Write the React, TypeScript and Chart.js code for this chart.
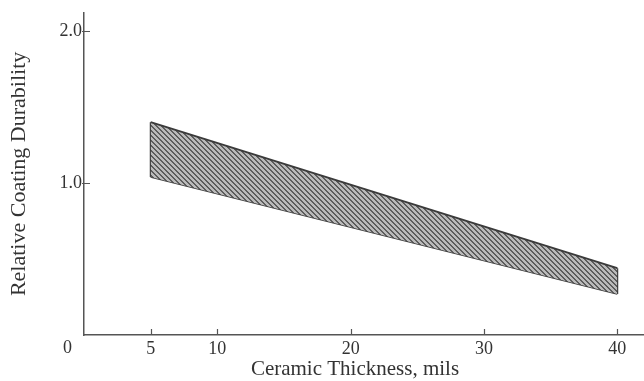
import React, { useEffect, useRef } from "react";
import { Chart, registerables } from "chart.js";

Chart.register(...registerables);

const bandX = [5, 40];
const upperValues = [1.4, 0.44];
const lowerValues = [1.04, 0.27];
const xTickValues = [5, 10, 20, 30, 40];
const yTickValues = [1.0, 2.0];
const xTitle = "Ceramic Thickness, mils";
const yTitle = "Relative Coating Durability";
const originLabel = "0";

const FONT = "'Liberation Serif', 'DejaVu Serif', serif";
const TEXT = "#333";
const AXIS = "#555";
const LINE = "#3a3a3a";

function makeHatch(): CanvasPattern | string {
  const c = document.createElement("canvas");
  const n = 5;
  c.width = n;
  c.height = n;
  const g = c.getContext("2d");
  if (!g) return "#888";
  for (let yy = 0; yy < n; yy++) {
    for (let xx = 0; xx < n; xx++) {
      g.fillStyle = (xx - yy + n * 2) % n < 2 ? "#5c5c5c" : "#bababa";
      g.fillRect(xx, yy, 1, 1);
    }
  }
  const p = g.createPattern(c, "repeat");
  return p || "#888";
}

const decor = {
  id: "decor",
  afterDraw(chart: any) {
    const { ctx, chartArea, scales } = chart;
    const x = scales.x;
    const y = scales.y;
    const y0 = y.getPixelForValue(0);
    const x0 = x.getPixelForValue(0);
    ctx.save();
    ctx.strokeStyle = AXIS;
    ctx.lineWidth = 1.2;
    ctx.beginPath();
    for (const v of xTickValues) {
      const px = Math.round(x.getPixelForValue(v)) + 0.5;
      ctx.moveTo(px, y0);
      ctx.lineTo(px, y0 - 6);
    }
    for (const v of yTickValues) {
      const py = Math.round(y.getPixelForValue(v)) + 0.5;
      ctx.moveTo(x0 - 2, py);
      ctx.lineTo(x0 + 6, py);
    }
    ctx.stroke();
    ctx.fillStyle = TEXT;
    ctx.font = "21px " + FONT;
    ctx.textAlign = "center";
    ctx.textBaseline = "middle";
    ctx.fillText(xTitle, chartArea.left + 271, 369);
    ctx.font = "18px " + FONT;
    ctx.textAlign = "right";
    ctx.fillText(originLabel, x0 - 12, y0 + 13);
    ctx.restore();
  },
};

export default function App() {
  const ref = useRef<HTMLCanvasElement | null>(null);

  useEffect(() => {
    if (!ref.current) return;
    const hatch = makeHatch();
    const upper = bandX.map((v, i) => ({ x: v, y: upperValues[i] }));
    const lower = bandX.map((v, i) => ({ x: v, y: lowerValues[i] }));
    const leftEdge = [
      { x: bandX[0], y: lowerValues[0] },
      { x: bandX[0], y: upperValues[0] },
    ];
    const last = bandX.length - 1;
    const rightEdge = [
      { x: bandX[last], y: lowerValues[last] },
      { x: bandX[last], y: upperValues[last] },
    ];
    const lineStyle = {
      borderColor: LINE,
      borderWidth: 1.8,
      pointRadius: 0,
      tension: 0,
    };
    const chart = new Chart(ref.current, {
      type: "line",
      data: {
        datasets: [
          { ...lineStyle, data: upper, fill: "+1", backgroundColor: hatch as any },
          { ...lineStyle, data: lower, fill: false },
          { ...lineStyle, data: leftEdge, fill: false },
          { ...lineStyle, data: rightEdge, fill: false },
        ],
      },
      options: {
        animation: false,
        responsive: false,
        layout: { padding: { top: 10, right: 0, left: 0, bottom: 0 } },
        plugins: {
          legend: { display: false },
          tooltip: { enabled: false },
        },
        scales: {
          x: {
            type: "linear",
            min: 0,
            max: 42,
            afterFit: (s: any) => {
              s.height = 46;
            },
            afterBuildTicks: (s: any) => {
              s.ticks = xTickValues.map((v) => ({ value: v }));
            },
            grid: { display: false, drawTicks: false },
            border: { display: true, color: AXIS, width: 1.5 },
            ticks: {
              color: TEXT,
              font: { family: FONT, size: 18 },
              padding: 3,
              maxRotation: 0,
              autoSkip: false,
              callback: (v: any) => String(v),
            },
          },
          y: {
            type: "linear",
            min: 0,
            max: 2.12,
            afterFit: (s: any) => {
              s.width = 84;
            },
            afterBuildTicks: (s: any) => {
              s.ticks = yTickValues.map((v) => ({ value: v }));
            },
            grid: { display: false, drawTicks: false },
            border: { display: true, color: AXIS, width: 1.5 },
            ticks: {
              color: TEXT,
              font: { family: FONT, size: 18 },
              padding: 2,
              autoSkip: false,
              callback: (v: any) => Number(v).toFixed(1),
            },
            title: {
              display: true,
              text: yTitle,
              color: TEXT,
              font: { family: FONT, size: 22, weight: "normal" },
              padding: { top: 6, bottom: 0 },
            },
          },
        },
      },
      plugins: [decor],
    });
    return () => chart.destroy();
  }, []);

  return (
    <div style={{ position: "fixed", left: 0, top: 0, width: 644, height: 381, background: "#fff" }}>
      <canvas ref={ref} width={644} height={381} style={{ display: "block", width: 644, height: 381 }} />
    </div>
  );
}
